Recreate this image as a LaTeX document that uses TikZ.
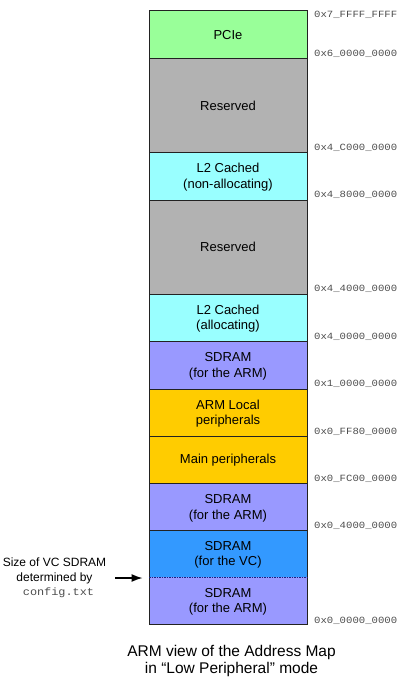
\documentclass[tikz,border=0pt]{standalone}
\usepackage{fontspec}
\setmainfont{Liberation Sans}
\newfontfamily\addrfont[FakeStretch=1.12]{Liberation Mono}
\usetikzlibrary{arrows.meta}
\definecolor{pciegreen}{HTML}{99FF99}
\definecolor{resgray}{HTML}{B2B2B2}
\definecolor{lcyan}{HTML}{99FFFF}
\definecolor{sdramlav}{HTML}{9999FF}
\definecolor{periorange}{HTML}{FFCC00}
\definecolor{vcblue}{HTML}{3399FF}
\definecolor{addrgray}{HTML}{4D4D4D}
\definecolor{edgegray}{HTML}{222222}
\definecolor{dashblue}{HTML}{1A237E}
\tikzset{
  membox/.style={rectangle, draw=edgegray, line width=0.9pt, minimum width=158pt,
    inner sep=0pt, outer sep=0pt, align=center, font=\fontsize{13}{15.5}\selectfont},
  memfill/.style={membox, draw=none},
  addr/.style={anchor=base west, inner sep=0pt, text=addrgray,
    font=\addrfont\fontsize{9.5}{11}\selectfont},
  caption/.style={anchor=base, inner sep=0pt, font=\fontsize{15.5}{17.5}\selectfont},
  sidelabel/.style={anchor=base, inner sep=0pt, font=\fontsize{12}{14.3}\selectfont},
  pointer/.style={-{Latex[length=11pt,width=8pt]}, line width=1.3pt, black}
}
\begin{document}
\begin{tikzpicture}[x=1pt,y=-1pt]
\useasboundingbox (0,0) rectangle (405,678);
% memory boxes
\node[membox, fill=pciegreen,  minimum height=48pt]   (pcie)  at (228,34.7)  {PCIe};
\node[membox, fill=resgray,    minimum height=94pt]   (resA)  at (228,105.7) {Reserved};
\node[membox, fill=lcyan,      minimum height=47.3pt] (l2na)  at (228,176.35) {\rule{0pt}{11pt}L2 Cached\\(non-allocating)};
\node[membox, fill=resgray,    minimum height=94pt]   (resB)  at (228,247)   {Reserved};
\node[membox, fill=lcyan,      minimum height=47.7pt] (l2a)   at (228,317.85) {\rule{0pt}{11pt}L2 Cached\\(allocating)};
\node[membox, fill=sdramlav,   minimum height=47.3pt] (armA)  at (228,365.35) {\rule{0pt}{11pt}SDRAM\\(for the ARM)};
\node[membox, fill=periorange, minimum height=47.3pt] (local) at (228,412.65) {\rule{0pt}{11pt}ARM Local\\peripherals};
\node[membox, fill=periorange, minimum height=47.4pt] (main)  at (228,460)   {Main peripherals};
\node[membox, fill=sdramlav,   minimum height=47pt]   (armB)  at (228,507.2) {\rule{0pt}{11pt}SDRAM\\(for the ARM)};
\node[memfill, fill=vcblue,    minimum height=46.6pt] (vc)    at (228,554)   {\rule{0pt}{11pt}SDRAM\\(for the VC)};
\node[memfill, fill=sdramlav,  minimum height=47.2pt] (armC)  at (228,600.9) {\rule{0pt}{11pt}SDRAM\\(for the ARM)};
\draw[edgegray, line width=0.9pt] (vc.north west) rectangle (armC.south east);
\draw[dashblue, line width=0.6pt, dash pattern=on 1.5pt off 1pt] (vc.south west) -- (vc.south east);
% addresses
\node[addr] (a7fff) at (314,17.5)  {0x7\_FFFF\_FFFF};
\node[addr] (a6000) at (314,56)    {0x6\_0000\_0000};
\node[addr] (a4c00) at (314,150)   {0x4\_C000\_0000};
\node[addr] (a4800) at (314,197.5) {0x4\_8000\_0000};
\node[addr] (a4400) at (314,291.5) {0x4\_4000\_0000};
\node[addr] (a4000) at (314,339)   {0x4\_0000\_0000};
\node[addr] (a1000) at (314,386.5) {0x1\_0000\_0000};
\node[addr] (a0ff8) at (314,434)   {0x0\_FF80\_0000};
\node[addr] (a0fc0) at (314,481)   {0x0\_FC00\_0000};
\node[addr] (a0400) at (314,528)   {0x0\_4000\_0000};
\node[addr] (a0000) at (314,623.5) {0x0\_0000\_0000};
% side label and pointer
\node[sidelabel] (sizeA) at (54.5,566.7) {Size of VC SDRAM};
\node[sidelabel] (sizeB) at (54.5,581)   {determined by};
\node[sidelabel, text=addrgray, font=\addrfont\fontsize{10.6}{12}\selectfont] (sizeC) at (58.5,595) {config.txt};
\coordinate (ptrstart) at (115,578);
\coordinate (ptrend) at (142.5,578);
\draw[pointer] (ptrstart) -- (ptrend);
% caption
\node[caption] (capA) at (231.5,656)   {ARM view of the Address Map};
\node[caption] (capB) at (231.5,673.3) {in “Low Peripheral” mode};
\end{tikzpicture}
\end{document}
